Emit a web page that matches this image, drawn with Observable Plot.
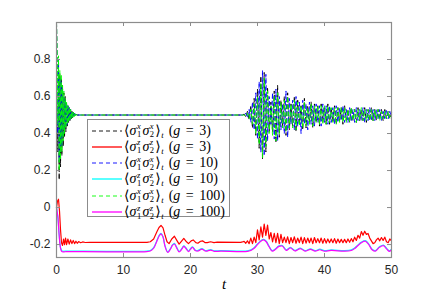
<!DOCTYPE html>
<html>
<head>
<meta charset="utf-8">
<script src="https://cdn.jsdelivr.net/npm/d3@7"></script>
<script src="https://cdn.jsdelivr.net/npm/@observablehq/plot@0.6"></script>
<style>
  html, body { margin: 0; padding: 0; background: #fff; }
  #fig { position: relative; width: 432px; height: 297px; }
  #legend { position: absolute; left: 87px; top: 119px; width: 143px; height: 98px;
            background: #fff; border: 1px solid #8c8c8c; box-sizing: border-box;
            font-family: "Liberation Serif", "DejaVu Serif", serif; font-size: 14px; color: #000; }
  .row { position: absolute; left: 0; height: 16px; line-height: 16px; white-space: nowrap; }
  .row svg { position: absolute; left: 4px; top: 5px; }
  .txt { position: absolute; left: 36px; top: 0; }
  .ss { position: relative; display: inline-block; width: 6px; height: 10px; vertical-align: baseline; font-size: 8.5px; }
  .ss .up { position: absolute; left: 0.5px; top: -2.5px; line-height: 8px; font-style: italic; }
  .ss .dn { position: absolute; left: 0.5px; top: 5.7px; line-height: 8px; }
  .st { font-size: 8.5px; font-style: italic; position: relative; top: 3px; margin-left: 0.5px; }
  .par { margin-left: 5px; }
  .eq { display: inline-block; margin: 0 5.5px; }
</style>
</head>
<body>
<div id="fig"></div>
<script>
// ---------- ticks ----------
const xTicks = [0, 10, 20, 30, 40, 50];
const yTicks = [-0.2, 0, 0.2, 0.4, 0.6, 0.8];
const yTickLabels = ["-0.2", "0", "0.2", "0.4", "0.6", "0.8"];

// ---------- series names ----------
const seriesKeys = ["xx3", "zz3", "xx10", "zz10", "xx100", "zz100"];
const seriesOp = ["x", "z", "x", "z", "x", "z"];
const seriesG = ["3", "3", "10", "10", "100", "100"];
const seriesColors = ["#000000", "#ff0000", "#0000ff", "#00ffff", "#00ff00", "#ff00ff"];
const seriesDashed = [true, false, true, false, true, false];

// ---------- <σxσx> time grids ----------
const tEarly = [0, 0.1, 0.2, 0.3, 0.4, 0.5, 0.6, 0.7, 0.8, 0.9,
                1.0, 1.1, 1.2, 1.3, 1.4, 1.5, 1.6, 1.7, 1.8, 1.9,
                2.0, 2.1, 2.2, 2.3, 2.4, 2.5, 2.6, 2.7, 2.8, 2.9, 3.0];
const tFlat = [4, 27.75];
const tRevival = [
  28, 28.25, 28.5, 28.75,  29, 29.25, 29.5, 29.75,  30, 30.25, 30.5, 30.75,
  31, 31.25, 31.5, 31.75,  32, 32.25, 32.5, 32.75,  33, 33.25, 33.5, 33.75,
  34, 34.25, 34.5, 34.75,  35, 35.25, 35.5, 35.75,  36, 36.25, 36.5, 36.75,
  37, 37.25, 37.5, 37.75,  38, 38.25, 38.5, 38.75,  39, 39.25, 39.5, 39.75,
  40, 40.25, 40.5, 40.75,  41, 41.25, 41.5, 41.75,  42, 42.25, 42.5, 42.75,
  43, 43.25, 43.5, 43.75,  44, 44.25, 44.5, 44.75,  45, 45.25, 45.5, 45.75,
  46, 46.25, 46.5, 46.75,  47, 47.25, 47.5, 47.75,  48, 48.25, 48.5, 48.75,
  49, 49.25, 49.5, 49.75,  50];

// ---------- <σ1x σ2x> values ----------
const xx3Early = [1.0, 0.62, 0.30, 0.78, 0.15, 0.72, 0.22, 0.70, 0.28, 0.66,
                  0.33, 0.62, 0.38, 0.60, 0.41, 0.57, 0.44, 0.55, 0.46, 0.54,
                  0.47, 0.53, 0.48, 0.52, 0.485, 0.515, 0.49, 0.51, 0.495, 0.505, 0.50];
const xx10Early = [1.0, 0.75, 0.40, 0.80, 0.25, 0.70, 0.30, 0.68, 0.33, 0.64,
                   0.38, 0.60, 0.42, 0.58, 0.44, 0.56, 0.45, 0.55, 0.47, 0.54,
                   0.47, 0.53, 0.48, 0.52, 0.49, 0.51, 0.49, 0.51, 0.50, 0.505, 0.50];
const xx100Early = [1.0, 0.85, 0.45, 0.82, 0.20, 0.74, 0.26, 0.72, 0.30, 0.66,
                    0.36, 0.63, 0.40, 0.59, 0.43, 0.57, 0.45, 0.55, 0.46, 0.54,
                    0.47, 0.53, 0.48, 0.52, 0.485, 0.515, 0.49, 0.51, 0.495, 0.505, 0.50];
const xxFlat = [0.5, 0.5];
const xx3Revival = [
  0.505, 0.49, 0.52, 0.475,   0.55, 0.43, 0.59, 0.39,   0.64, 0.32, 0.71, 0.26,
  0.73, 0.30, 0.65, 0.41,     0.57, 0.41, 0.63, 0.35,   0.66, 0.38, 0.58, 0.44,
  0.60, 0.39, 0.62, 0.42,     0.56, 0.44, 0.60, 0.41,   0.58, 0.45, 0.55, 0.42,
  0.59, 0.43, 0.55, 0.46,     0.57, 0.43, 0.56, 0.46,   0.55, 0.44, 0.56, 0.46,
  0.54, 0.45, 0.56, 0.45,     0.54, 0.46, 0.55, 0.45,   0.54, 0.47, 0.54, 0.45,
  0.55, 0.47, 0.53, 0.46,     0.54, 0.47, 0.53, 0.46,   0.54, 0.47, 0.53, 0.47,
  0.54, 0.46, 0.53, 0.47,     0.54, 0.47, 0.53, 0.47,   0.53, 0.48, 0.53, 0.47,
  0.53, 0.48, 0.52, 0.48,     0.51];
const xx10Revival = [
  0.50, 0.51, 0.485, 0.53,    0.46, 0.57, 0.42, 0.62,   0.37, 0.68, 0.30, 0.74,
  0.28, 0.72, 0.36, 0.60,     0.45, 0.62, 0.37, 0.64,   0.36, 0.60, 0.42, 0.56,
  0.40, 0.63, 0.38, 0.59,     0.45, 0.58, 0.42, 0.60,   0.44, 0.57, 0.40, 0.58,
  0.45, 0.56, 0.42, 0.57,     0.45, 0.55, 0.44, 0.56,   0.46, 0.55, 0.44, 0.56,
  0.46, 0.55, 0.45, 0.55,     0.46, 0.54, 0.45, 0.55,   0.46, 0.54, 0.47, 0.55,
  0.46, 0.53, 0.46, 0.54,     0.47, 0.53, 0.46, 0.54,   0.47, 0.53, 0.47, 0.54,
  0.46, 0.53, 0.47, 0.54,     0.47, 0.53, 0.47, 0.53,   0.48, 0.53, 0.47, 0.52,
  0.48, 0.53, 0.48, 0.52,     0.49];
const xx100Revival = [
  0.50, 0.495, 0.51, 0.48,    0.53, 0.45, 0.56, 0.40,   0.60, 0.34, 0.67, 0.27,
  0.70, 0.33, 0.63, 0.40,     0.55, 0.39, 0.60, 0.36,   0.62, 0.40, 0.57, 0.43,
  0.58, 0.41, 0.60, 0.43,     0.56, 0.43, 0.58, 0.42,   0.57, 0.44, 0.55, 0.43,
  0.57, 0.44, 0.54, 0.45,     0.56, 0.44, 0.55, 0.46,   0.55, 0.45, 0.55, 0.45,
  0.55, 0.45, 0.55, 0.46,     0.54, 0.46, 0.54, 0.45,   0.54, 0.46, 0.54, 0.46,
  0.54, 0.46, 0.53, 0.46,     0.54, 0.47, 0.53, 0.46,   0.53, 0.47, 0.54, 0.47,
  0.53, 0.47, 0.53, 0.47,     0.53, 0.47, 0.53, 0.48,   0.53, 0.47, 0.52, 0.48,
  0.52, 0.48, 0.52, 0.48,     0.50];

// ---------- <σ1z σ2z>, g = 3 ----------
const tRedPre = [0, 0.15, 0.3, 0.45, 0.6, 0.75, 0.9, 1.05, 1.2, 1.35,
                 1.5, 1.7, 1.9, 2.1, 2.3, 2.5, 2.7, 2.9, 3.1, 3.3,
                 3.6, 3.9, 4.3, 5, 13.5, 14, 14.5, 15, 15.3, 15.6,
                 15.9, 16.2, 16.5, 16.8, 17.2, 17.6, 18, 18.3, 18.7, 19,
                 19.4, 19.7, 20.1, 20.4, 20.8, 21.1, 21.5, 21.8, 22.2, 22.5,
                 23, 23.5, 24, 27.5, 27.75];
const zz3Pre = [0, 0.035, 0.045, -0.02, -0.12, -0.19, -0.205, -0.17, -0.2, -0.165,
                -0.2, -0.17, -0.198, -0.175, -0.195, -0.178, -0.195, -0.182, -0.193, -0.184,
                -0.19, -0.186, -0.189, -0.188, -0.188, -0.185, -0.17, -0.13, -0.108, -0.097,
                -0.11, -0.15, -0.185, -0.195, -0.17, -0.155, -0.18, -0.198, -0.18, -0.167,
                -0.185, -0.195, -0.18, -0.175, -0.19, -0.193, -0.182, -0.18, -0.19, -0.19,
                -0.185, -0.19, -0.187, -0.188, -0.186];
const zz3Revival = [
  -0.183, -0.193, -0.18, -0.195,    -0.165, -0.195, -0.16, -0.19,     -0.12, -0.175, -0.105, -0.16,
  -0.09, -0.15, -0.095, -0.17,      -0.135, -0.185, -0.14, -0.19,     -0.14, -0.195, -0.145, -0.19,
  -0.16, -0.19, -0.158, -0.195,     -0.162, -0.19, -0.158, -0.193,    -0.165, -0.19, -0.16, -0.195,
  -0.163, -0.192, -0.165, -0.19,    -0.165, -0.195, -0.162, -0.19,    -0.168, -0.19, -0.165, -0.193,
  -0.168, -0.192, -0.17, -0.19,     -0.17, -0.19, -0.168, -0.193,     -0.17, -0.19, -0.172, -0.19,
  -0.172, -0.19, -0.17, -0.188,     -0.168, -0.185, -0.16, -0.178,    -0.15, -0.165, -0.13, -0.15,
  -0.128, -0.145, -0.14, -0.165,    -0.18, -0.195, -0.19, -0.175,     -0.165, -0.18, -0.162, -0.178,
  -0.16, -0.185, -0.19, -0.17,      -0.18];

// ---------- <σ1z σ2z>, g = 10 and g = 100 ----------
const tZ = [0, 0.2, 0.4, 0.6, 0.8, 1.0, 1.5, 2, 13.5, 14,
            14.5, 15, 15.3, 15.6, 15.9, 16.2, 16.6, 17, 17.3, 17.6,
            17.9, 18.3, 18.7, 19, 19.3, 19.7, 20, 20.3, 20.7, 21.1,
            21.7, 22.3, 23, 23.6, 24.5, 28.5, 29, 29.5, 30, 30.5,
            30.9, 31.3, 31.7, 32.2, 32.7, 33.2, 33.7, 34.3, 34.9, 35.6,
            36.4, 37.1, 37.9, 38.6, 39.3, 40, 41, 43, 44, 44.5,
            45, 45.5, 46.1, 46.6, 47.1, 47.6, 48.2, 48.8, 49.3, 49.7,
            50];
const zz100 = [0, -0.05, -0.15, -0.22, -0.238, -0.24, -0.238, -0.238, -0.238, -0.235,
               -0.22, -0.18, -0.155, -0.142, -0.16, -0.21, -0.243, -0.225, -0.205, -0.197,
               -0.215, -0.24, -0.225, -0.21, -0.22, -0.238, -0.225, -0.215, -0.232, -0.235,
               -0.225, -0.236, -0.23, -0.237, -0.236, -0.237, -0.232, -0.22, -0.2, -0.182,
               -0.175, -0.185, -0.21, -0.236, -0.225, -0.21, -0.208, -0.232, -0.218, -0.235,
               -0.222, -0.236, -0.226, -0.236, -0.228, -0.236, -0.232, -0.236, -0.232, -0.222,
               -0.205, -0.19, -0.182, -0.2, -0.228, -0.236, -0.215, -0.206, -0.225, -0.237,
               -0.228];
const zz10 = [0, -0.05, -0.148, -0.215, -0.234, -0.236, -0.235, -0.235, -0.235, -0.232,
              -0.217, -0.177, -0.152, -0.14, -0.158, -0.207, -0.24, -0.222, -0.202, -0.194,
              -0.212, -0.237, -0.222, -0.207, -0.217, -0.235, -0.222, -0.212, -0.229, -0.232,
              -0.222, -0.233, -0.227, -0.234, -0.233, -0.234, -0.229, -0.217, -0.197, -0.179,
              -0.172, -0.182, -0.207, -0.233, -0.222, -0.207, -0.205, -0.229, -0.215, -0.232,
              -0.219, -0.233, -0.223, -0.233, -0.225, -0.233, -0.229, -0.233, -0.229, -0.219,
              -0.202, -0.187, -0.179, -0.197, -0.225, -0.233, -0.212, -0.203, -0.222, -0.234,
              -0.225];

// ---------- assemble ----------
const tX = [...tEarly, ...tFlat, ...tRevival];
const tRed = [...tRedPre, ...tRevival];
const series = {
  xx3:   {t: tX, v: [...xx3Early, ...xxFlat, ...xx3Revival]},
  zz3:   {t: tRed, v: [...zz3Pre, ...zz3Revival]},
  xx10:  {t: tX, v: [...xx10Early, ...xxFlat, ...xx10Revival]},
  zz10:  {t: tZ, v: zz10},
  xx100: {t: tX, v: [...xx100Early, ...xxFlat, ...xx100Revival]},
  zz100: {t: tZ, v: zz100}
};
seriesKeys.forEach(k => { if (series[k].t.length !== series[k].v.length) console.error("length mismatch", k, series[k].t.length, series[k].v.length); });

const W = 432, H = 297, mL = 56, mR = 41, mT = 22, mB = 40;
const plotW = W - mL - mR, plotH = H - mT - mB;
const tickLen = 4, axisGray = "#8c8c8c";

const lineMarks = seriesKeys.map((k, i) => {
  const rows = series[k].t.map((t, j) => ({t, v: series[k].v[j]}));
  return Plot.line(rows, {
    x: "t", y: "v",
    stroke: seriesColors[i],
    strokeWidth: seriesDashed[i] ? 0.9 : 1.2,
    strokeDasharray: seriesDashed[i] ? "4,3" : null,
    curve: (k === "zz10" || k === "zz100") ? "catmull-rom" : "linear"
  });
});

const chart = Plot.plot({
  width: W, height: H,
  marginLeft: mL, marginRight: mR, marginTop: mT, marginBottom: mB,
  style: {fontFamily: "'Liberation Sans', Arial, sans-serif", fontSize: "12px", color: "#262626", background: "#fff"},
  x: {domain: [0, 50]},
  y: {domain: [-0.27, 1.0]},
  marks: [
    ...lineMarks,
    Plot.tickX(xTicks, {x: d => d, stroke: axisGray, insetTop: plotH - tickLen}),
    Plot.tickX(xTicks, {x: d => d, stroke: axisGray, insetBottom: plotH - tickLen}),
    Plot.tickY(yTicks, {y: d => d, stroke: axisGray, insetRight: plotW - tickLen}),
    Plot.tickY(yTicks, {y: d => d, stroke: axisGray, insetLeft: plotW - tickLen}),
    Plot.frame({stroke: axisGray, strokeWidth: 1.2}),
    Plot.axisX({ticks: xTicks, tickSize: 0, tickPadding: 8, label: null, tickFormat: d => String(d), fill: "#262626"}),
    Plot.axisY({ticks: yTicks, tickSize: 0, tickPadding: 6, label: null, tickFormat: d => yTickLabels[yTicks.indexOf(d)], fill: "#262626"}),
    Plot.text(["t"], {frameAnchor: "bottom", dy: 31, text: d => d, fontFamily: "'Liberation Serif', serif", fontStyle: "italic", fontSize: 15, fill: "#000"})
  ]
});

const fig = document.getElementById("fig");
fig.appendChild(chart);

// ---------- legend ----------
const legend = document.createElement("div");
legend.id = "legend";
seriesKeys.forEach((k, i) => {
  const op = seriesOp[i];
  const row = document.createElement("div");
  row.className = "row";
  row.style.top = (2.5 + i * 16.3) + "px";
  const dash = seriesDashed[i] ? 'stroke-dasharray="4,3"' : "";
  const sw = seriesDashed[i] ? 0.9 : 1.3;
  row.innerHTML =
    `<svg width="30" height="6"><line x1="0" y1="3" x2="30" y2="3" stroke="${seriesColors[i]}" stroke-width="${sw}" ${dash}/></svg>` +
    `<span class="txt">⟨<i>σ</i><span class="ss"><span class="up">${op}</span><span class="dn">1</span></span><i>σ</i><span class="ss"><span class="up">${op}</span><span class="dn">2</span></span>⟩<span class="st">t</span><span class="par">(<i>g</i><span class="eq">=</span>${seriesG[i]})</span></span>`;
  legend.appendChild(row);
});
fig.appendChild(legend);
</script>
</body>
</html>
